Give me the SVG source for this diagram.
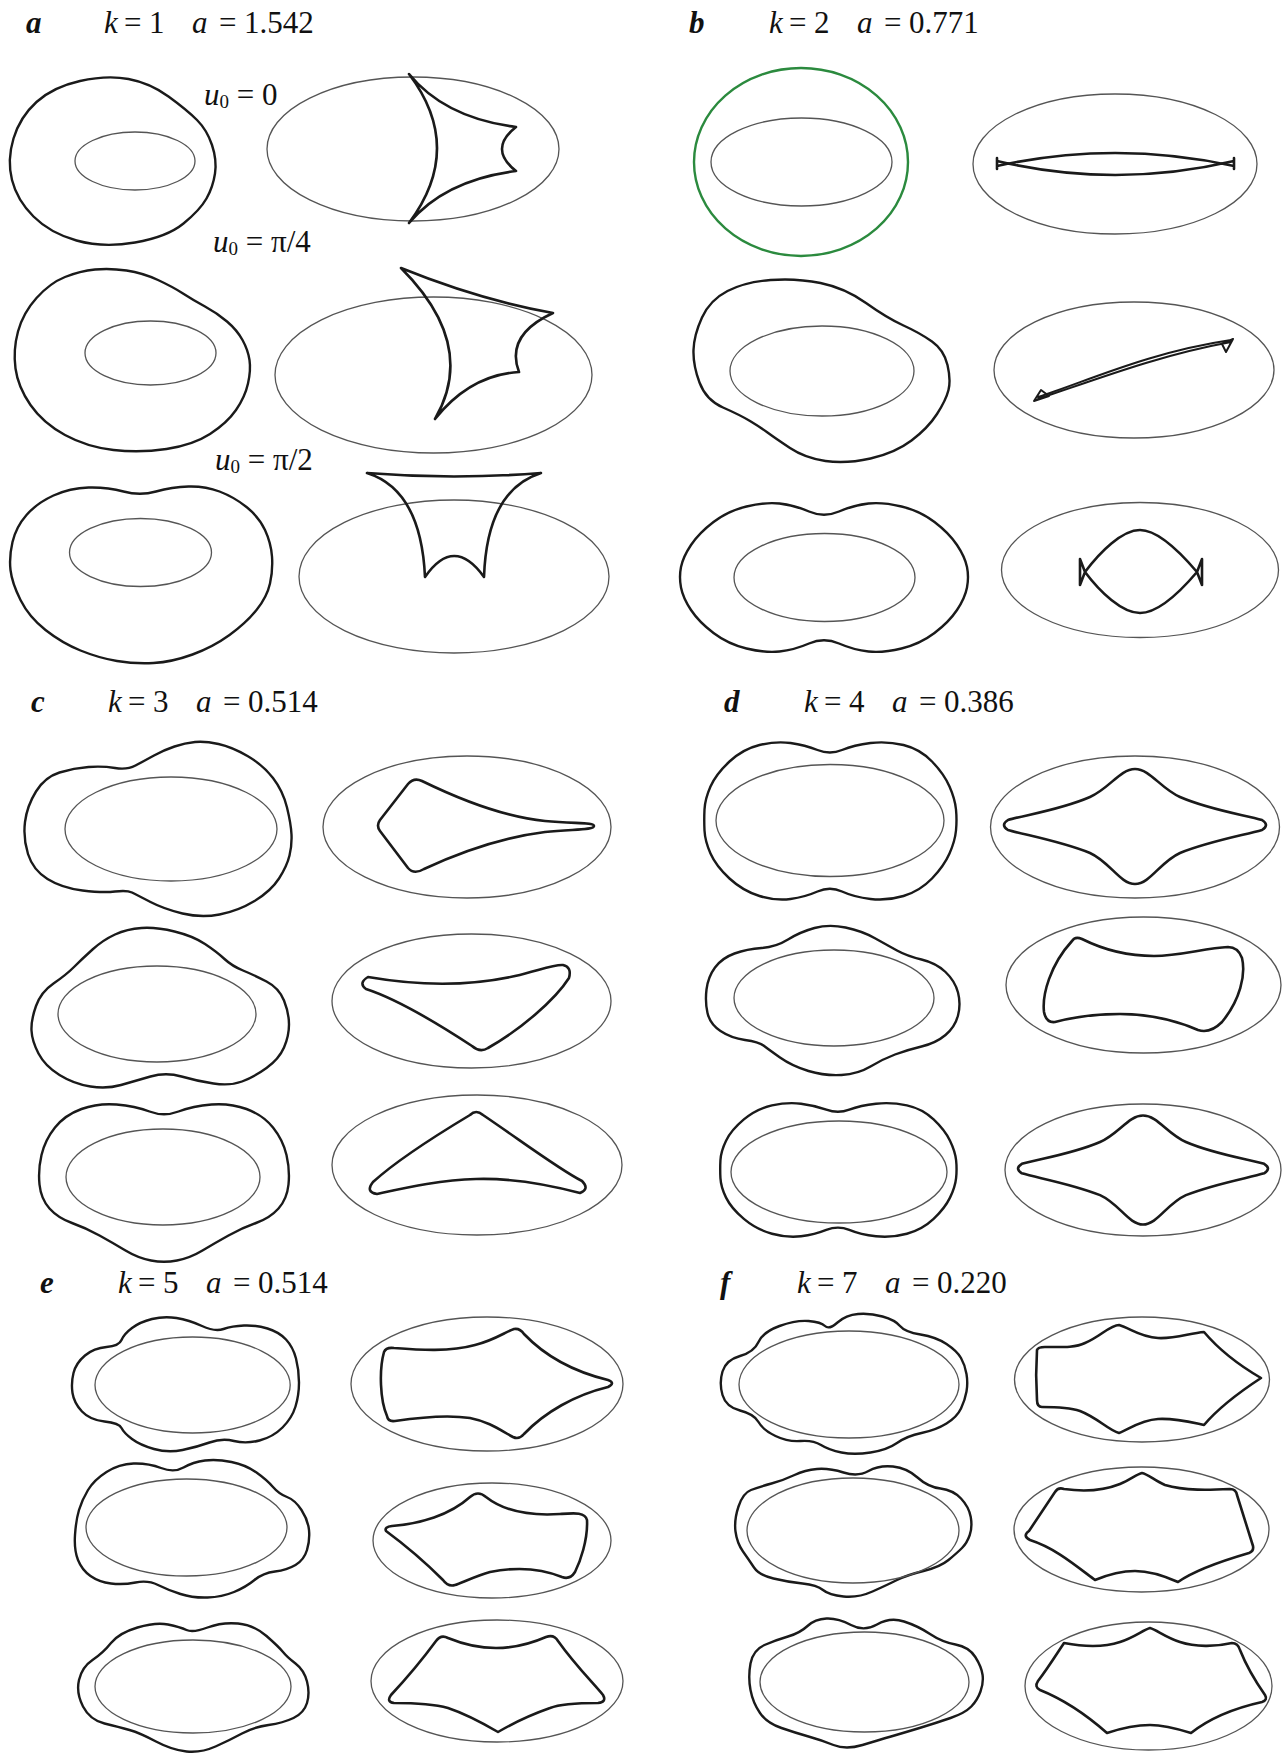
<svg xmlns="http://www.w3.org/2000/svg" width="1282" height="1753" viewBox="0 0 1282 1753">
<style>
.t{font-family:"Liberation Serif","Times New Roman",serif;font-size:31px;fill:#111}
.i{font-style:italic}
.p{font-weight:bold;font-style:italic}
.o{fill:none;stroke:#1a1a1a;stroke-width:2.4;stroke-linejoin:round}
.e{fill:none;stroke:#555;stroke-width:1.3}
.c{fill:none;stroke:#1a1a1a;stroke-width:2.6;stroke-linejoin:round;stroke-linecap:round}
.g{fill:none;stroke:#2b8a3e;stroke-width:2.4}
</style>
<rect width="1282" height="1753" fill="#fff"/>

<g id="labels">
<text class="t p" x="26" y="33">a</text>
<text class="t" y="33"><tspan class="i" x="104">k</tspan><tspan x="124">=</tspan><tspan x="149">1</tspan><tspan class="i" x="192">a</tspan><tspan x="219">=</tspan><tspan x="244">1.542</tspan></text>
<text class="t p" x="689" y="33">b</text>
<text class="t" y="33"><tspan class="i" x="769">k</tspan><tspan x="789">=</tspan><tspan x="814">2</tspan><tspan class="i" x="857">a</tspan><tspan x="884">=</tspan><tspan x="909">0.771</tspan></text>
<text class="t p" x="31" y="712">c</text>
<text class="t" y="712"><tspan class="i" x="108">k</tspan><tspan x="128">=</tspan><tspan x="153">3</tspan><tspan class="i" x="196">a</tspan><tspan x="223">=</tspan><tspan x="248">0.514</tspan></text>
<text class="t p" x="724" y="712">d</text>
<text class="t" y="712"><tspan class="i" x="804">k</tspan><tspan x="824">=</tspan><tspan x="849">4</tspan><tspan class="i" x="892">a</tspan><tspan x="919">=</tspan><tspan x="944">0.386</tspan></text>
<text class="t p" x="40" y="1293">e</text>
<text class="t" y="1293"><tspan class="i" x="118">k</tspan><tspan x="138">=</tspan><tspan x="163">5</tspan><tspan class="i" x="206">a</tspan><tspan x="233">=</tspan><tspan x="258">0.514</tspan></text>
<text class="t p" x="720" y="1293">f</text>
<text class="t" y="1293"><tspan class="i" x="797">k</tspan><tspan x="817">=</tspan><tspan x="842">7</tspan><tspan class="i" x="885">a</tspan><tspan x="912">=</tspan><tspan x="937">0.220</tspan></text>
<text class="t" y="105"><tspan class="i" x="204">u</tspan><tspan font-size="19" dy="3">0</tspan><tspan dy="-3"> = 0</tspan></text>
<text class="t" y="252"><tspan class="i" x="213">u</tspan><tspan font-size="19" dy="3">0</tspan><tspan dy="-3"> = π/4</tspan></text>
<text class="t" y="470"><tspan class="i" x="215">u</tspan><tspan font-size="19" dy="3">0</tspan><tspan dy="-3"> = π/2</tspan></text>
</g>

<g id="panel-a">
<path class="o" d="M80,81 Q107,75 128.5,79 Q150,83 168.5,96.5 Q187,110 197,120 Q207,130 212,145 Q217,160 215,173.5 Q213,187 206.5,198.5 Q200,210 183.5,223.5 Q167,237 135,242.5 Q103,248 76.5,240.5 Q50,233 33.5,216.5 Q17,200 12,180 Q7,160 13.5,138.5 Q20,117 36.5,102 Q53,87 80,81Z"/>
<ellipse class="e" cx="135" cy="161" rx="60" ry="29"/>
<ellipse class="e" cx="413" cy="149" rx="146" ry="72"/>
<path class="c" d="M409,74 Q445,118 516,127 Q488,149 516,171 Q445,180 409,223 Q465,148 409,74Z"/>
<path class="o" d="M95,269.5 Q110,268 126.5,270.5 Q143,273 158,280 Q173,287 183,293.5 Q193,300 205,306.5 Q217,313 227,321.5 Q237,330 242.5,340 Q248,350 249.5,360 Q251,370 248,383.5 Q245,397 236,410 Q227,423 210,434 Q193,445 166.5,449 Q140,453 113.5,450 Q87,447 65,435 Q43,423 30.5,405 Q18,387 15.5,368.5 Q13,350 18,331.5 Q23,313 36.5,298 Q50,283 65,277 Q80,271 95,269.5Z"/>
<ellipse class="e" cx="150.5" cy="353" rx="65.5" ry="32"/>
<ellipse class="e" cx="433.5" cy="375" rx="158.5" ry="78"/>
<path class="c" d="M401,268 Q480,300 553,313 Q505,335 519,372 Q470,375 435,419 Q478,345 401,268Z"/>
<path class="o" d="M123.5,491.5 Q140,496 156,491.5 Q172,487 188.5,486.5 Q205,486 219.5,491.5 Q234,497 246.5,507 Q259,517 265,530 Q271,543 272,556.5 Q273,570 270,583.5 Q267,597 256.5,610 Q246,623 229.5,635 Q213,647 192.5,654.5 Q172,662 153.5,663 Q135,664 117,661 Q99,658 80.5,650.5 Q62,643 45.5,630 Q29,617 20.5,600 Q12,583 10.5,570 Q9,557 12.5,542 Q16,527 26.5,515 Q37,503 53.5,495.5 Q70,488 88.5,487.5 Q107,487 123.5,491.5Z"/>
<ellipse class="e" cx="140.5" cy="552.5" rx="71" ry="34"/>
<ellipse class="e" cx="454" cy="576.5" rx="155" ry="76.5"/>
<path class="c" d="M367,473 Q454,480 541,473 Q487,490 484,577 Q454,535 425,577 Q421,490 367,473Z"/>
</g>

<g id="panel-b">
<ellipse class="g" cx="801" cy="162" rx="107" ry="94"/>
<ellipse class="e" cx="801.5" cy="162" rx="90.5" ry="44"/>
<ellipse class="e" cx="1115" cy="164" rx="142" ry="70"/>
<path class="c" d="M997,166 Q1115,140 1234,166 M997,161 Q1115,189 1234,161 M997,158 L997,169 M1234,158 L1234,169"/>
<path class="o" d="M770.5,280 Q796,278 820.5,283 Q845,288 866,303 Q887,318 903.5,325.5 Q920,333 932,341.5 Q944,350 947.5,365 Q951,380 948.5,390 Q946,400 937,414 Q928,428 911.5,440.5 Q895,453 870.5,458.5 Q846,464 825.5,461 Q805,458 790,448 Q775,438 767.5,432.5 Q760,427 750,421 Q740,415 723,407.5 Q706,400 699.5,382.5 Q693,365 693.5,350 Q694,335 702,317.5 Q710,300 727.5,291 Q745,282 770.5,280Z"/>
<ellipse class="e" cx="822" cy="371" rx="92" ry="45"/>
<ellipse class="e" cx="1134" cy="370" rx="140" ry="68"/>
<path class="c" style="stroke-width:2" d="M1038,397 C1090,380 1150,352 1231,340 M1038,399 C1100,378 1160,355 1231,342 M1034,401 L1041,390 L1049,396 Z M1233,339 L1222,344 L1226,352 Z"/>
<path class="o" d="M809,511.5 Q824,518 839,511.5 Q854,505 868.5,503.5 Q883,502 901.5,506.5 Q920,511 934.5,522 Q949,533 957,545 Q965,557 967,567 Q969,577 967,587.5 Q965,598 957,610 Q949,622 934.5,633 Q920,644 901.5,648.5 Q883,653 868.5,651.5 Q854,650 839,643.5 Q824,637 809,643.5 Q794,650 779.5,651.5 Q765,653 746.5,648.5 Q728,644 713.5,633 Q699,622 691,610 Q683,598 681,587.5 Q679,577 681,567 Q683,557 691,545 Q699,533 713.5,522 Q728,511 746.5,506.5 Q765,502 779.5,503.5 Q794,505 809,511.5Z"/>
<ellipse class="e" cx="824.5" cy="577.5" rx="90.5" ry="44"/>
<ellipse class="e" cx="1140" cy="570" rx="138.5" ry="67.5"/>
<path class="c" d="M1080,585 L1085,572 C1100,552 1122,530 1140,530 C1158,530 1180,552 1197,572 L1202,585 M1080,559 L1085,572 C1100,592 1122,613 1140,613 C1158,613 1180,592 1197,572 L1202,559 M1080,559 L1080,585 M1202,559 L1202,585"/>
</g>

<g id="panel-c">
<path class="o" d="M115,768 Q127,770 135.5,765.5 Q144,761 154,755.5 Q164,750 174.5,746.5 Q185,743 195,742 Q205,741 218.5,744 Q232,747 247.5,756 Q263,765 273,778 Q283,791 287,807.5 Q291,824 291.5,834.5 Q292,845 289.5,855.5 Q287,866 279,878.5 Q271,891 254.5,901 Q238,911 219.5,914.5 Q201,918 182.5,913.5 Q164,909 150.5,902 Q137,895 132,892.5 Q127,890 115,891.5 Q103,893 82.5,890.5 Q62,888 47.5,879 Q33,870 28,854 Q23,838 25,822 Q27,806 36,791.5 Q45,777 59.5,772.5 Q74,768 88.5,767 Q103,766 115,768Z"/>
<ellipse class="e" cx="171" cy="829" rx="106" ry="52"/>
<ellipse class="e" cx="467" cy="827" rx="144" ry="71"/>
<path class="c" d="M380,820 L408,784 Q414,777 422,781 C465,802 505,817 545,821 C575,824 594,822 594,826 C594,830 575,829 545,832 C505,837 465,850 424,869 Q414,875 408,868 L380,831 Q376,825.5 380,820 Z"/>
<path class="o" d="M141.5,928 Q156,927 174.5,931.5 Q193,936 205,944 Q217,952 224.5,959 Q232,966 243,970.5 Q254,975 266.5,981.5 Q279,988 284,1000.5 Q289,1013 289,1024.5 Q289,1036 284,1047.5 Q279,1059 266.5,1068 Q254,1077 242,1081.5 Q230,1086 213.5,1083.5 Q197,1081 181.5,1076.5 Q166,1072 150.5,1076.5 Q135,1081 121,1085 Q107,1089 90.5,1086.5 Q74,1084 59.5,1075 Q45,1066 38.5,1053.5 Q32,1041 31.5,1030.5 Q31,1020 36,1006 Q41,992 53.5,983.5 Q66,975 74,967 Q82,959 92.5,949.5 Q103,940 115,934.5 Q127,929 141.5,928Z"/>
<ellipse class="e" cx="157" cy="1014" rx="99" ry="48"/>
<ellipse class="e" cx="471.5" cy="1001" rx="139.5" ry="67"/>
<path class="c" d="M368,977 C420,986 470,986 515,976 C540,970 555,964 563,965 Q572,967 569,978 C555,1000 520,1030 488,1048 Q480,1053 472,1046 C440,1025 400,1000 366,989 Q358,983 368,977 Z"/>
<path class="o" d="M149.5,1111.5 Q164,1117 178.5,1111.5 Q193,1106 211.5,1104.5 Q230,1103 246.5,1109 Q263,1115 273,1127.5 Q283,1140 286.5,1155 Q290,1170 288.5,1184.5 Q287,1199 278.5,1208.5 Q270,1218 256,1223 Q242,1228 228.5,1235.5 Q215,1243 202.5,1250.5 Q190,1258 177,1260.5 Q164,1263 151,1260.5 Q138,1258 125.5,1250.5 Q113,1243 99.5,1235.5 Q86,1228 72,1223 Q58,1218 49.5,1208.5 Q41,1199 39.5,1184.5 Q38,1170 41.5,1155 Q45,1140 55,1127.5 Q65,1115 81.5,1109 Q98,1103 116.5,1104.5 Q135,1106 149.5,1111.5Z"/>
<ellipse class="e" cx="163" cy="1177" rx="97" ry="48"/>
<ellipse class="e" cx="477" cy="1165" rx="145" ry="70"/>
<path class="c" d="M470,1115 Q476,1109 483,1115 C520,1140 560,1170 582,1181 Q590,1189 580,1193 C550,1185 510,1178 476,1179 C440,1180 405,1188 377,1194 Q365,1192 373,1182 C395,1162 435,1136 470,1115 Z"/>
</g>

<g id="panel-d">
<path class="o" d="M817.5,750 Q830,755 842,750 Q854,745 870.5,743 Q887,741 903.5,745 Q920,749 932,761.5 Q944,774 949.5,786.5 Q955,799 956,809.5 Q957,820 956,830.5 Q955,841 949.5,853.5 Q944,866 932,878.5 Q920,891 903.5,896 Q887,901 870.5,899 Q854,897 842,891.5 Q830,886 817.5,891.5 Q805,897 790.5,899 Q776,901 759.5,896 Q743,891 729.5,878.5 Q716,866 710.5,853.5 Q705,841 704.5,830.5 Q704,820 704.5,809.5 Q705,799 710.5,786.5 Q716,774 729.5,761.5 Q743,749 759.5,745 Q776,741 790.5,743 Q805,745 817.5,750Z"/>
<ellipse class="e" cx="830" cy="820.5" rx="114" ry="56"/>
<ellipse class="e" cx="1135" cy="827" rx="144.5" ry="71"/>
<path class="c" d="M1135,769 C1150,769 1160,788 1180,797 C1210,810 1245,815 1262,820 Q1270,825 1262,830 C1245,835 1210,841 1180,853 C1160,862 1150,884 1135,884 C1120,884 1110,862 1090,853 C1060,841 1025,835 1008,830 Q1000,825 1008,820 C1025,815 1060,810 1090,797 C1110,788 1120,769 1135,769 Z"/>
<path class="o" d="M814.5,928 Q829,924 845.5,927.5 Q862,931 874.5,938 Q887,945 897,950.5 Q907,956 921.5,959.5 Q936,963 945.5,972 Q955,981 958,992.5 Q961,1004 958,1015.5 Q955,1027 945.5,1035 Q936,1043 921.5,1046.5 Q907,1050 895,1054.5 Q883,1059 870.5,1066.5 Q858,1074 841.5,1075 Q825,1076 808.5,1071 Q792,1066 780,1057.5 Q768,1049 763.5,1045.5 Q759,1042 745,1040 Q731,1038 720.5,1031 Q710,1024 707.5,1013 Q705,1002 706.5,989.5 Q708,977 715,967.5 Q722,958 734.5,953.5 Q747,949 761.5,948 Q776,947 788,939.5 Q800,932 814.5,928Z"/>
<ellipse class="e" cx="834" cy="998" rx="100" ry="48"/>
<ellipse class="e" cx="1143.5" cy="985" rx="137.5" ry="68"/>
<path class="c" d="M1072,941 Q1075,936 1082,939 C1100,948 1125,956 1154,956 C1180,956 1205,948 1228,947 Q1238,947 1242,958 C1246,975 1240,1000 1222,1022 Q1210,1034 1198,1030 C1175,1020 1150,1014 1120,1014 C1095,1014 1070,1018 1055,1022 Q1046,1023 1044,1012 C1042,995 1050,965 1072,941 Z"/>
<g transform="translate(838.5,1170) scale(0.937,0.85) translate(-830.5,-821)">
<path class="o" vector-effect="non-scaling-stroke" d="M817.5,750 Q830,755 842,750 Q854,745 870.5,743 Q887,741 903.5,745 Q920,749 932,761.5 Q944,774 949.5,786.5 Q955,799 956,809.5 Q957,820 956,830.5 Q955,841 949.5,853.5 Q944,866 932,878.5 Q920,891 903.5,896 Q887,901 870.5,899 Q854,897 842,891.5 Q830,886 817.5,891.5 Q805,897 790.5,899 Q776,901 759.5,896 Q743,891 729.5,878.5 Q716,866 710.5,853.5 Q705,841 704.5,830.5 Q704,820 704.5,809.5 Q705,799 710.5,786.5 Q716,774 729.5,761.5 Q743,749 759.5,745 Q776,741 790.5,743 Q805,745 817.5,750Z"/>
</g>
<ellipse class="e" cx="839" cy="1172" rx="108" ry="51"/>
<ellipse class="e" cx="1143" cy="1170" rx="138" ry="66"/>
<g transform="translate(1143,1170) scale(0.954,0.948) translate(-1135,-826.5)">
<path class="c" vector-effect="non-scaling-stroke" d="M1135,769 C1150,769 1160,788 1180,797 C1210,810 1245,815 1262,820 Q1270,825 1262,830 C1245,835 1210,841 1180,853 C1160,862 1150,884 1135,884 C1120,884 1110,862 1090,853 C1060,841 1025,835 1008,830 Q1000,825 1008,820 C1025,815 1060,810 1090,797 C1110,788 1120,769 1135,769 Z"/>
</g>
</g>

<g id="panel-e">
<path class="o" d="M106.5,1347 Q119,1346 121.5,1340 Q124,1334 132,1328 Q140,1322 152,1319 Q164,1316 176.5,1318 Q189,1320 202,1326 Q215,1332 223.5,1329 Q232,1326 244,1325.5 Q256,1325 267.5,1328.5 Q279,1332 286,1339.5 Q293,1347 296,1358.5 Q299,1370 299,1382.5 Q299,1395 295.5,1406.5 Q292,1418 282.5,1427.5 Q273,1437 259.5,1440.5 Q246,1444 234,1441 Q222,1438 209.5,1442.5 Q197,1447 182.5,1450 Q168,1453 154,1449 Q140,1445 132,1439 Q124,1433 121.5,1428 Q119,1423 104.5,1421.5 Q90,1420 82,1411.5 Q74,1403 72.5,1393 Q71,1383 73.5,1373 Q76,1363 85,1355.5 Q94,1348 106.5,1347Z"/>
<ellipse class="e" cx="192.6" cy="1385" rx="97.6" ry="48"/>
<ellipse class="e" cx="487" cy="1384" rx="136" ry="67"/>
<path class="c" d="M384,1352 Q386,1347 394,1348 C420,1350 450,1352 475,1345 C495,1340 505,1332 514,1329 Q520,1328 524,1334 C545,1356 575,1372 608,1380 Q616,1383 608,1387 C575,1395 545,1412 524,1434 Q519,1440 513,1437 C500,1430 490,1422 470,1418 C445,1414 415,1418 395,1421 Q388,1422 387,1416 C380,1400 379,1370 384,1352 Z"/>
<path class="o" d="M161,1468 Q174,1473 183.5,1467.5 Q193,1462 205,1460.5 Q217,1459 231.5,1462 Q246,1465 256.5,1472.5 Q267,1480 273,1487 Q279,1494 287,1497 Q295,1500 301.5,1510 Q308,1520 309,1530 Q310,1540 307,1550 Q304,1560 295.5,1565 Q287,1570 275,1571.5 Q263,1573 254.5,1580 Q246,1587 234,1592 Q222,1597 207.5,1597.5 Q193,1598 180.5,1594 Q168,1590 158,1585 Q148,1580 135.5,1582.5 Q123,1585 111,1583.5 Q99,1582 90.5,1576 Q82,1570 78,1560 Q74,1550 75,1535 Q76,1520 79,1510 Q82,1500 88,1490 Q94,1480 106.5,1472 Q119,1464 133.5,1463.5 Q148,1463 161,1468Z"/>
<ellipse class="e" cx="186.5" cy="1527.5" rx="100.5" ry="48.5"/>
<ellipse class="e" cx="492" cy="1540.5" rx="119" ry="57.5"/>
<path class="c" d="M386,1531 Q384,1527 392,1526 C420,1524 450,1515 470,1497 Q478,1490 486,1497 C505,1512 530,1516 560,1514 C575,1513 585,1512 587,1520 C588,1540 580,1562 575,1572 Q570,1580 562,1577 C540,1568 515,1567 490,1572 C475,1576 460,1584 455,1585 Q448,1587 443,1580 C425,1562 405,1545 386,1531 Z"/>
<path class="o" d="M186.5,1630 Q193,1633 207.5,1627.5 Q222,1622 238,1623.5 Q254,1625 266.5,1636 Q279,1647 283,1652 Q287,1657 295.5,1663.5 Q304,1670 307,1681.5 Q310,1693 307,1703 Q304,1713 293.5,1718 Q283,1723 268.5,1725 Q254,1727 242,1733.5 Q230,1740 215.5,1746.5 Q201,1753 186.5,1751.5 Q172,1750 156,1741.5 Q140,1733 129.5,1730 Q119,1727 104.5,1723.5 Q90,1720 83,1706.5 Q76,1693 79,1680 Q82,1667 92.5,1660 Q103,1653 111,1643 Q119,1633 137.5,1627.5 Q156,1622 168,1624.5 Q180,1627 186.5,1630Z"/>
<ellipse class="e" cx="193" cy="1686.5" rx="98" ry="46.5"/>
<ellipse class="e" cx="497" cy="1681" rx="126" ry="61"/>
<path class="c" d="M436,1641 Q441,1634 448,1638 C465,1645 480,1648 496,1648 C512,1648 530,1644 546,1637 Q554,1634 558,1641 C575,1665 595,1685 603,1695 Q607,1702 598,1703 C580,1703 560,1704 550,1708 C530,1715 510,1725 498,1732 C486,1725 466,1714 448,1708 C430,1703 410,1703 394,1703 Q386,1702 391,1695 C405,1680 422,1660 436,1641 Z"/>
</g>

<g id="panel-f">
<path class="o" d="M740,1356 Q754,1352 758.5,1342 Q763,1332 779.5,1326 Q796,1320 808.5,1321 Q821,1322 825,1326 Q829,1330 837.5,1322.5 Q846,1315 858,1314 Q870,1313 882.5,1316.5 Q895,1320 900,1326 Q905,1332 920.5,1334.5 Q936,1337 946.5,1344 Q957,1351 961,1358 Q965,1365 966.5,1374 Q968,1383 966.5,1391.5 Q965,1400 961,1408.5 Q957,1417 946.5,1423.5 Q936,1430 921.5,1433 Q907,1436 897,1443 Q887,1450 870.5,1452.5 Q854,1455 841.5,1452.5 Q829,1450 821,1445 Q813,1440 800.5,1441 Q788,1442 775.5,1436 Q763,1430 758.5,1422 Q754,1414 740,1410.5 Q726,1407 722.5,1395 Q719,1383 722.5,1371.5 Q726,1360 740,1356Z"/>
<ellipse class="e" cx="849" cy="1384.5" rx="110" ry="53.5"/>
<ellipse class="e" cx="1142" cy="1379.5" rx="127.5" ry="62.5"/>
<path class="c" d="M1037,1350 Q1038,1347 1045,1347 C1060,1347 1075,1348 1085,1343 C1100,1337 1110,1325 1119,1325 C1130,1328 1140,1337 1158,1338 C1175,1339 1190,1333 1204,1332 C1215,1345 1230,1360 1261,1378 C1235,1395 1215,1412 1204,1425 C1190,1422 1175,1418 1158,1419 C1140,1420 1128,1430 1119,1433 C1108,1430 1098,1418 1080,1411 C1068,1407 1055,1407 1042,1407 Q1037,1407 1037,1400 C1036,1385 1036,1365 1037,1350 Z"/>
<path class="o" d="M843.5,1472.5 Q858,1477 868.5,1471 Q879,1465 893,1466.5 Q907,1468 917.5,1477.5 Q928,1487 940.5,1488.5 Q953,1490 961,1498.5 Q969,1507 970.75,1517 Q972.5,1527 969.75,1535 Q967,1543 962,1548 Q957,1553 948.5,1560 Q940,1567 923.5,1571 Q907,1575 897,1580 Q887,1585 872.5,1591.5 Q858,1598 843.5,1596.5 Q829,1595 823,1590 Q817,1585 802.5,1583.5 Q788,1582 773.5,1578.5 Q759,1575 754,1567.5 Q749,1560 743,1551.5 Q737,1543 735.5,1531.5 Q734,1520 738.5,1506.5 Q743,1493 751,1490 Q759,1487 771.5,1483.5 Q784,1480 794.5,1475 Q805,1470 817,1469 Q829,1468 843.5,1472.5Z"/>
<ellipse class="e" cx="853" cy="1530.5" rx="106" ry="52.5"/>
<ellipse class="e" cx="1141.5" cy="1529.5" rx="127.5" ry="62.5"/>
<path class="c" d="M1029,1531 L1055,1492 Q1058,1487 1064,1489 C1085,1492 1105,1490 1120,1484 C1130,1480 1137,1474 1142,1473 C1148,1474 1155,1481 1165,1485 C1185,1491 1210,1490 1230,1489 Q1236,1489 1237,1495 L1253,1546 Q1254,1551 1249,1553 C1225,1560 1195,1570 1178,1582 C1160,1574 1148,1571 1135,1571 C1120,1571 1107,1575 1095,1580 C1075,1565 1055,1548 1030,1540 Q1022,1536 1029,1531 Z"/>
<path class="o" d="M851,1625 Q864,1632 877,1624.5 Q890,1617 904,1621.5 Q918,1626 930,1634 Q942,1642 955.5,1644.5 Q969,1647 975.3,1657 Q981.6,1667 982.6,1675 Q983.6,1683 980.5,1691.5 Q977.5,1700 971.3,1706.5 Q965,1713 950.5,1718 Q936,1723 919.5,1728 Q903,1733 891,1736.5 Q879,1740 862.5,1745 Q846,1750 833.5,1745 Q821,1740 808.5,1736.5 Q796,1733 781.5,1728 Q767,1723 760,1713 Q753,1703 750.5,1690 Q748,1677 750.5,1663.5 Q753,1650 764.5,1645 Q776,1640 788,1636.5 Q800,1633 807.5,1626 Q815,1619 826.5,1618.5 Q838,1618 851,1625Z"/>
<ellipse class="e" cx="864.5" cy="1682" rx="104.5" ry="50"/>
<ellipse class="e" cx="1148.5" cy="1686" rx="123.5" ry="64"/>
<path class="c" d="M1064,1643 C1085,1647 1105,1647 1120,1642 C1135,1637 1143,1630 1150,1628 C1157,1630 1165,1637 1180,1642 C1195,1647 1215,1647 1232,1643 Q1238,1643 1240,1650 C1248,1670 1258,1685 1265,1695 Q1268,1700 1262,1702 C1235,1708 1210,1718 1191,1733 C1175,1728 1162,1725 1150,1725 C1138,1725 1122,1728 1107,1733 C1090,1718 1065,1700 1040,1690 Q1034,1687 1038,1681 C1048,1668 1056,1655 1064,1643 Z"/>
</g>
</svg>
